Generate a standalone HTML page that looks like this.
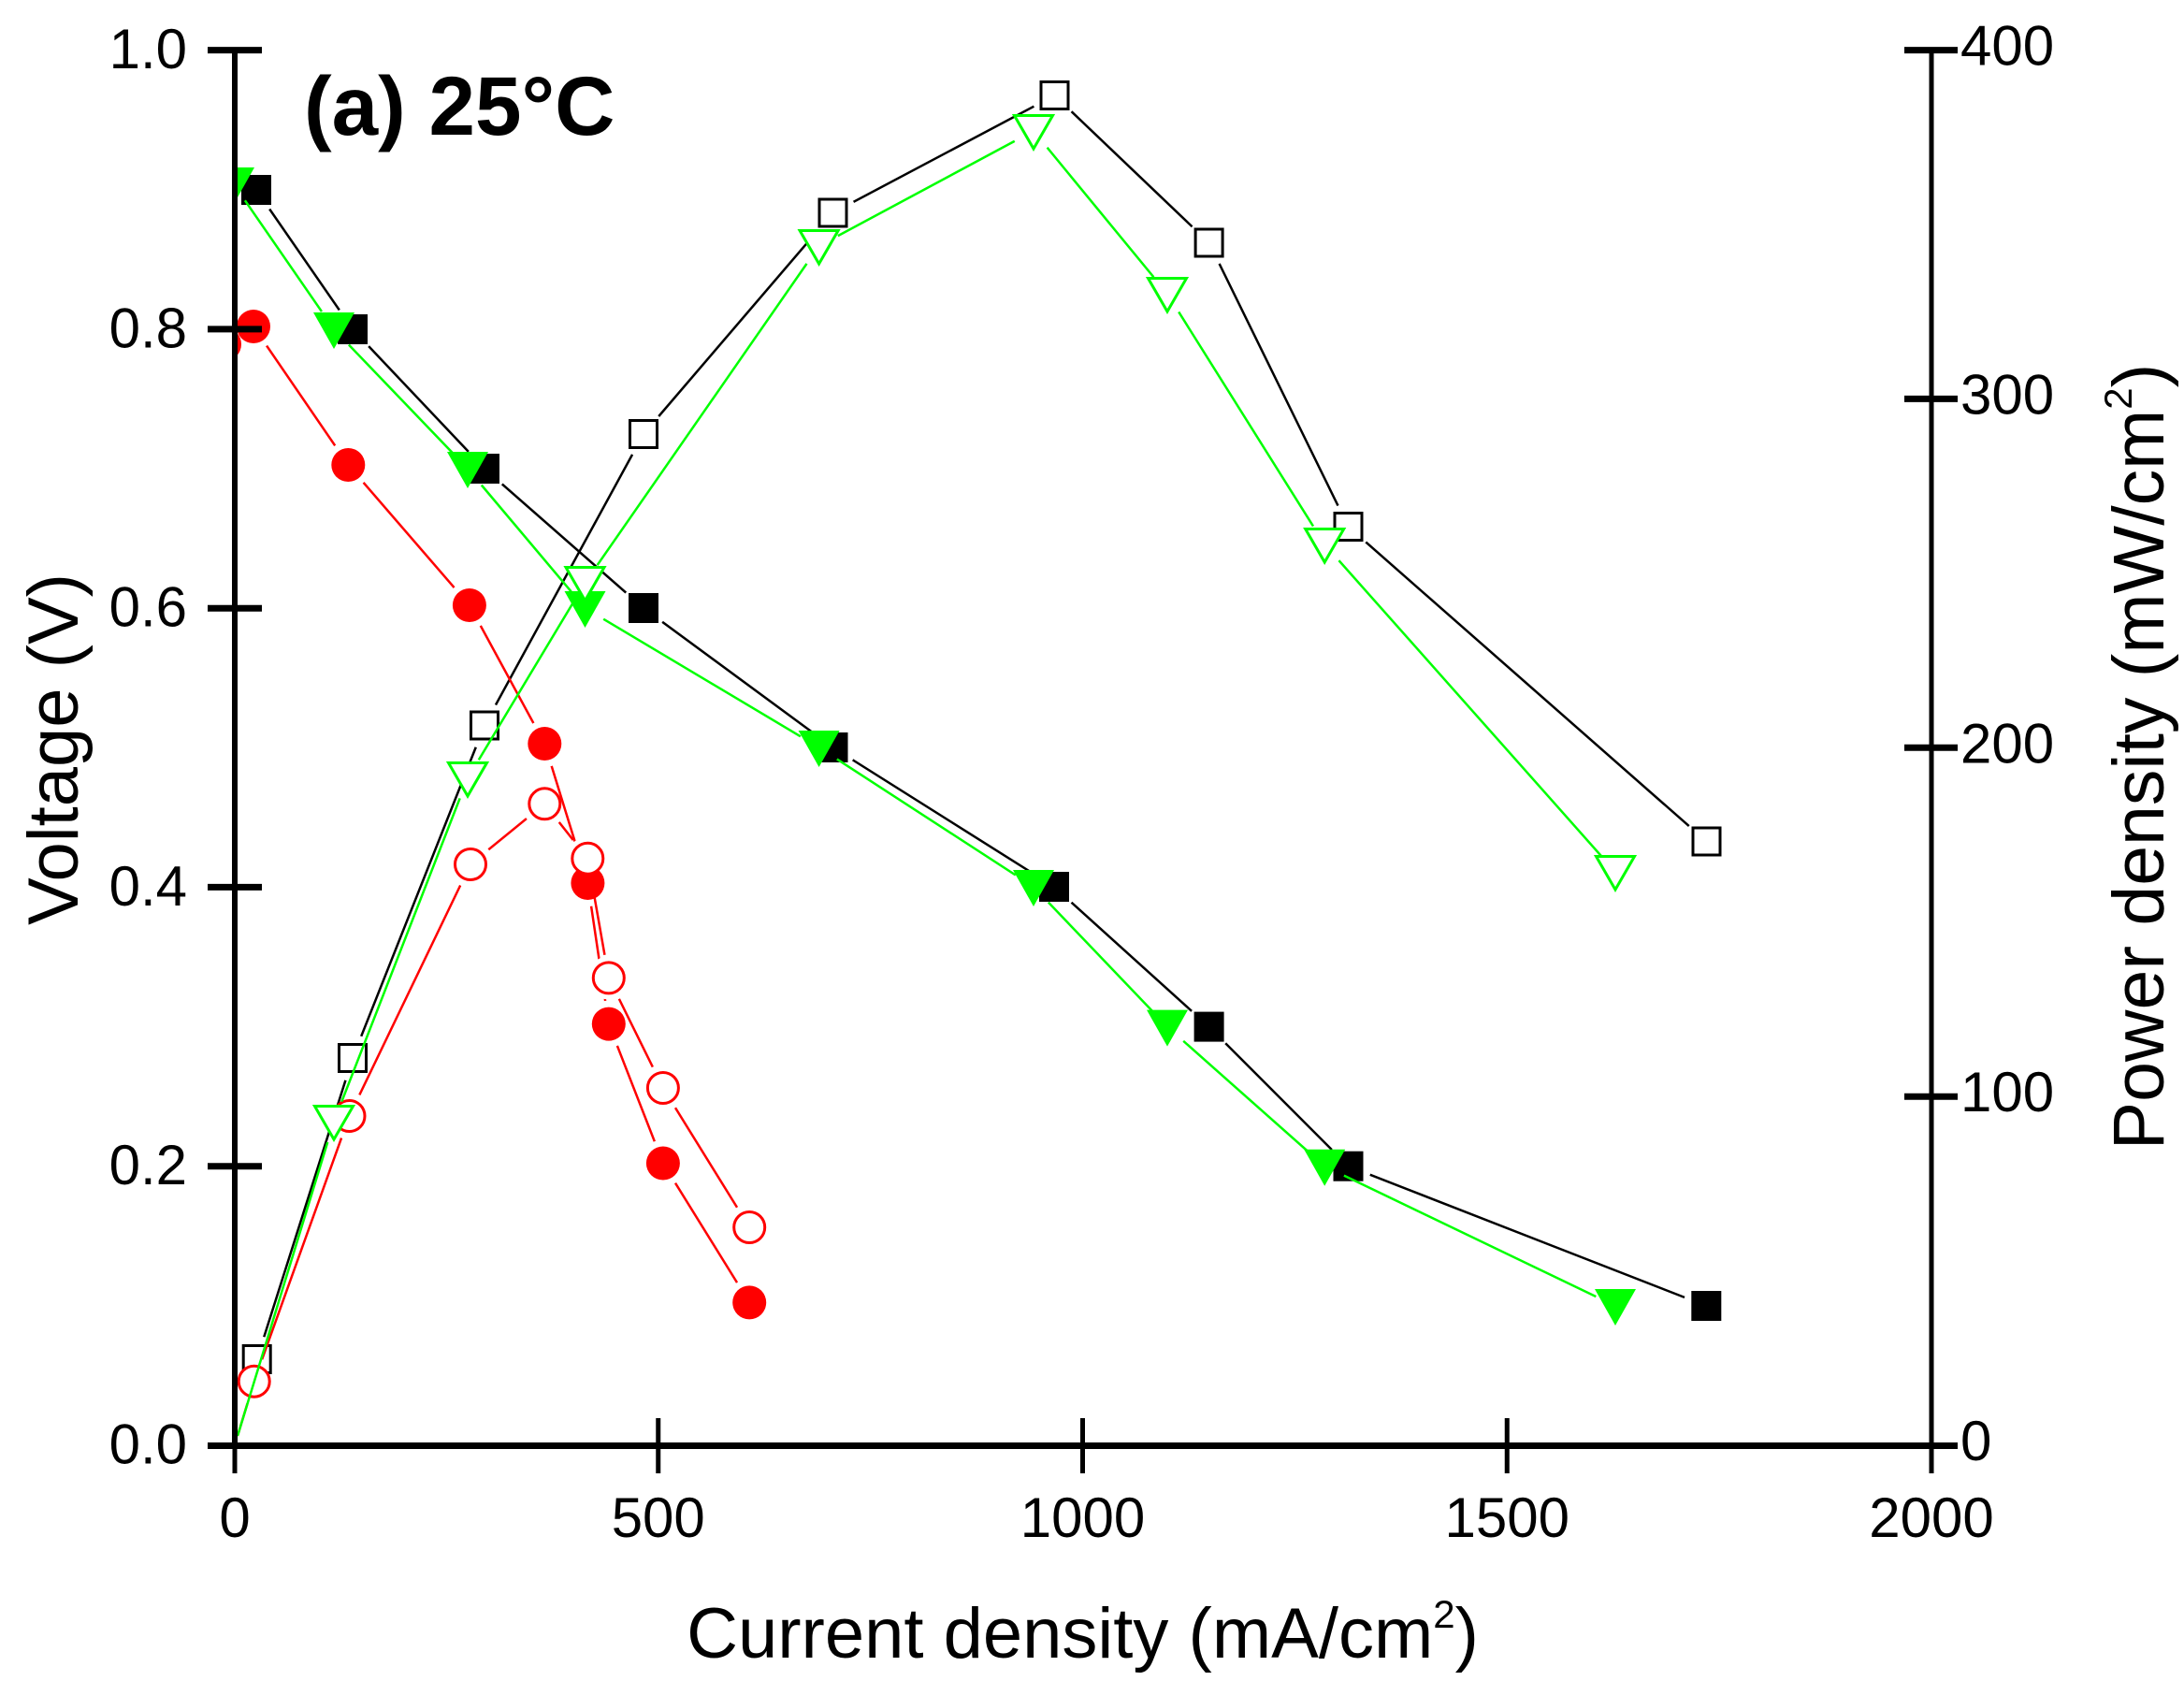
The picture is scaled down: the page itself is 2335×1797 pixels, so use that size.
<!DOCTYPE html>
<html><head><meta charset="utf-8"><style>html,body{margin:0;padding:0;background:#fff;}svg{display:block;}</style></head>
<body>
<svg width="2335" height="1797" viewBox="0 0 2335 1797" xmlns="http://www.w3.org/2000/svg" font-family="'Liberation Sans', Arial, sans-serif">
<rect width="2335" height="1797" fill="#fff"/>
<defs>
<clipPath id="pa"><rect x="250" y="0" width="1815" height="1545"/></clipPath>
<mask id="mBV" maskUnits="userSpaceOnUse" x="0" y="0" width="2335" height="1797"><rect width="2335" height="1797" fill="#fff"/><g fill="#000">
<circle cx="274" cy="203" r="25"/><circle cx="377" cy="352" r="25"/><circle cx="518" cy="501" r="25"/><circle cx="688" cy="650" r="25"/><circle cx="890.5" cy="799" r="25"/><circle cx="1127" cy="948" r="25"/><circle cx="1292.6" cy="1097.6" r="25"/><circle cx="1441.5" cy="1246.7" r="25"/><circle cx="1824.3" cy="1396" r="25"/></g></mask>
<mask id="mBP" maskUnits="userSpaceOnUse" x="0" y="0" width="2335" height="1797"><rect width="2335" height="1797" fill="#fff"/><g fill="#000">
<circle cx="274.7" cy="1453" r="25"/><circle cx="377" cy="1131" r="25"/><circle cx="518" cy="775.5" r="25"/><circle cx="688" cy="464" r="25"/><circle cx="890.5" cy="227.5" r="25"/><circle cx="1127.5" cy="102" r="25"/><circle cx="1292.6" cy="259.5" r="25"/><circle cx="1441.5" cy="563" r="25"/><circle cx="1824.5" cy="899.5" r="25"/></g></mask>
<mask id="mRV" maskUnits="userSpaceOnUse" x="0" y="0" width="2335" height="1797"><rect width="2335" height="1797" fill="#fff"/><g fill="#000">
<circle cx="240" cy="368" r="25"/><circle cx="271" cy="349" r="25"/><circle cx="372.3" cy="497" r="25"/><circle cx="501.9" cy="647" r="25"/><circle cx="582.3" cy="795" r="25"/><circle cx="628.4" cy="944" r="25"/><circle cx="650.8" cy="1094.6" r="25"/><circle cx="708.9" cy="1243.5" r="25"/><circle cx="801.2" cy="1392.4" r="25"/>
<circle cx="628.3" cy="917.7" r="23"/><circle cx="650.8" cy="1045.4" r="23"/><circle cx="708.9" cy="1163" r="23"/></g></mask>
<mask id="mRP" maskUnits="userSpaceOnUse" x="0" y="0" width="2335" height="1797"><rect width="2335" height="1797" fill="#fff"/><g fill="#000">
<circle cx="271.7" cy="1476.7" r="25"/><circle cx="373.5" cy="1193" r="25"/><circle cx="503" cy="924" r="25"/><circle cx="582.3" cy="859.3" r="25"/><circle cx="628.3" cy="917.7" r="25"/><circle cx="650.8" cy="1045.4" r="25"/><circle cx="708.9" cy="1163" r="25"/><circle cx="801.2" cy="1312" r="25"/></g></mask>
<mask id="mGV" maskUnits="userSpaceOnUse" x="0" y="0" width="2335" height="1797"><rect width="2335" height="1797" fill="#fff"/><g fill="#000">
<circle cx="250" cy="197" r="21"/><circle cx="357" cy="352" r="23"/><circle cx="500" cy="501" r="23"/><circle cx="625.5" cy="650" r="23"/><circle cx="875.6" cy="799" r="23"/><circle cx="1105" cy="948" r="23"/><circle cx="1248" cy="1097.6" r="23"/><circle cx="1416.2" cy="1246.7" r="23"/><circle cx="1727" cy="1396" r="23"/></g></mask>
<mask id="mGP" maskUnits="userSpaceOnUse" x="0" y="0" width="2335" height="1797"><rect width="2335" height="1797" fill="#fff"/><g fill="#000">
<circle cx="357" cy="1199" r="23"/><circle cx="500" cy="832" r="23"/><circle cx="625.5" cy="623" r="23"/><circle cx="875.6" cy="263" r="23"/><circle cx="1105" cy="140" r="23"/><circle cx="1248" cy="314" r="23"/><circle cx="1416.2" cy="582" r="23"/><circle cx="1727" cy="932" r="23"/></g></mask>
</defs>

<g clip-path="url(#pa)">
<!-- Black V -->
<polyline mask="url(#mBV)" fill="none" stroke="#000" stroke-width="2.5" points="274,203 377,352 518,501 688,650 890.5,799 1127,948 1292.6,1097.6 1441.5,1246.7 1824.3,1396"/>
<g fill="#000">
<rect x="258" y="187" width="32" height="32"/><rect x="361" y="336" width="32" height="32"/><rect x="502" y="485" width="32" height="32"/><rect x="672" y="634" width="32" height="32"/><rect x="874.5" y="783" width="32" height="32"/><rect x="1111" y="932" width="32" height="32"/><rect x="1276.6" y="1081.6" width="32" height="32"/><rect x="1425.5" y="1230.7" width="32" height="32"/><rect x="1808.3" y="1380" width="32" height="32"/>
</g>
<!-- Black P -->
<polyline mask="url(#mBP)" fill="none" stroke="#000" stroke-width="2.5" points="274.7,1453 377,1131 518,775.5 688,464 890.5,227.5 1127.5,102 1292.6,259.5 1441.5,563 1824.5,899.5"/>
<g fill="#fff" stroke="#000" stroke-width="3">
<rect x="260.2" y="1438.5" width="29" height="29"/><rect x="362.5" y="1116.5" width="29" height="29"/><rect x="503.5" y="761" width="29" height="29"/><rect x="673.5" y="449.5" width="29" height="29"/><rect x="876" y="213" width="29" height="29"/><rect x="1113" y="87.5" width="29" height="29"/><rect x="1278.1" y="245" width="29" height="29"/><rect x="1427" y="548.5" width="29" height="29"/><rect x="1810" y="885" width="29" height="29"/>
</g>
<!-- Red V -->
<polyline mask="url(#mRV)" fill="none" stroke="#f00" stroke-width="2.5" points="240,368 271,349 372.3,497 501.9,647 582.3,795 628.4,944 650.8,1094.6 708.9,1243.5 801.2,1392.4"/>
<g fill="#f00">
<circle cx="240" cy="368" r="18"/><circle cx="271" cy="349" r="18"/><circle cx="372.3" cy="497" r="18"/><circle cx="501.9" cy="647" r="18"/><circle cx="582.3" cy="795" r="18"/><circle cx="628.4" cy="944" r="18"/><circle cx="650.8" cy="1094.6" r="18"/><circle cx="708.9" cy="1243.5" r="18"/><circle cx="801.2" cy="1392.4" r="18"/>
</g>
<!-- Red P -->
<polyline mask="url(#mRP)" fill="none" stroke="#f00" stroke-width="2.5" points="254,1535 271.7,1476.7 373.5,1193 503,924 582.3,859.3 628.3,917.7 650.8,1045.4 708.9,1163 801.2,1312"/>
<g fill="#fff" stroke="#f00" stroke-width="3">
<circle cx="271.7" cy="1476.7" r="16.5"/><circle cx="373.5" cy="1193" r="16.5"/><circle cx="503" cy="924" r="16.5"/><circle cx="582.3" cy="859.3" r="16.5"/><circle cx="628.3" cy="917.7" r="16.5"/><circle cx="650.8" cy="1045.4" r="16.5"/><circle cx="708.9" cy="1163" r="16.5"/><circle cx="801.2" cy="1312" r="16.5"/>
</g>
<!-- Green V -->
<polyline mask="url(#mGV)" fill="none" stroke="#0f0" stroke-width="2.5" points="250,197 357,352 500,501 625.5,650 875.6,799 1105,948 1248,1097.6 1416.2,1246.7 1727,1396"/>
<g fill="#0f0">
<polygon points="228,179 272,179 250,218"/><polygon points="335,334 379,334 357,373"/><polygon points="478,483 522,483 500,522"/><polygon points="603.5,632 647.5,632 625.5,671"/><polygon points="853.6,781 897.6,781 875.6,820"/><polygon points="1083,930 1127,930 1105,969"/><polygon points="1226,1079.6 1270,1079.6 1248,1118.6"/><polygon points="1394.2,1228.7 1438.2,1228.7 1416.2,1267.7"/><polygon points="1705,1378 1749,1378 1727,1417"/>
</g>
<!-- Green P -->
<polyline mask="url(#mGP)" fill="none" stroke="#0f0" stroke-width="2.5" points="254,1535 357,1199 500,832 625.5,623 875.6,263 1105,140 1248,314 1416.2,582 1727,932"/>
<g fill="#fff" stroke="#0f0" stroke-width="3">
<polygon points="336.5,1182.5 377.5,1182.5 357,1218"/><polygon points="479.5,815.5 520.5,815.5 500,851"/><polygon points="605,606.5 646,606.5 625.5,642"/><polygon points="855.1,246.5 896.1,246.5 875.6,282"/><polygon points="1084.5,123.5 1125.5,123.5 1105,159"/><polygon points="1227.5,297.5 1268.5,297.5 1248,333"/><polygon points="1395.7,565.5 1436.7,565.5 1416.2,601"/><polygon points="1706.5,915.5 1747.5,915.5 1727,951"/>
</g>
</g>

<!-- Axes -->
<g stroke="#000" fill="none">
<line x1="251" y1="50.5" x2="251" y2="1548" stroke-width="6"/>
<line x1="2065" y1="50.5" x2="2065" y2="1548" stroke-width="5"/>
<line x1="222" y1="1545.5" x2="2093" y2="1545.5" stroke-width="7"/>
<g stroke-width="7">
<line x1="222" y1="53.6" x2="280" y2="53.6"/><line x1="222" y1="351.9" x2="280" y2="351.9"/><line x1="222" y1="650.2" x2="280" y2="650.2"/><line x1="222" y1="948.4" x2="280" y2="948.4"/><line x1="222" y1="1246.7" x2="280" y2="1246.7"/>
<line x1="2036" y1="53.6" x2="2093" y2="53.6"/><line x1="2036" y1="426.4" x2="2093" y2="426.4"/><line x1="2036" y1="799.3" x2="2093" y2="799.3"/><line x1="2036" y1="1172.2" x2="2093" y2="1172.2"/>
</g>
<g stroke-width="5">
<line x1="251" y1="1516" x2="251" y2="1575"/><line x1="703.75" y1="1516" x2="703.75" y2="1575"/><line x1="1157.5" y1="1516" x2="1157.5" y2="1575"/><line x1="1611.25" y1="1516" x2="1611.25" y2="1575"/><line x1="2065" y1="1516" x2="2065" y2="1575"/>
</g>
</g>

<!-- Tick labels -->
<g font-size="60" fill="#000" text-anchor="end">
<text x="200" y="73">1.0</text><text x="200" y="371.5">0.8</text><text x="200" y="669.5">0.6</text><text x="200" y="968">0.4</text><text x="200" y="1266">0.2</text><text x="200" y="1564.5">0.0</text>
</g>
<g font-size="60" fill="#000" text-anchor="start">
<text x="2096" y="69.5">400</text><text x="2096" y="442.5">300</text><text x="2096" y="815.5">200</text><text x="2096" y="1188">100</text><text x="2096" y="1561">0</text>
</g>
<g font-size="60" fill="#000" text-anchor="middle">
<text x="251" y="1643">0</text><text x="703.75" y="1643">500</text><text x="1157.5" y="1643">1000</text><text x="1611.25" y="1643">1500</text><text x="2065" y="1643">2000</text>
</g>

<!-- Axis titles -->
<text x="1157.5" y="1772" text-anchor="middle" font-size="76" fill="#000">Current density (mA/cm<tspan font-size="42" dy="-32">2</tspan><tspan dy="32">)</tspan></text>
<text transform="translate(83,801) rotate(-90)" text-anchor="middle" font-size="76" fill="#000">Voltage (V)</text>
<text transform="translate(2313,809) rotate(-90)" text-anchor="middle" font-size="77" fill="#000">Power density (mW/cm<tspan font-size="42" dy="-34">2</tspan><tspan dy="34">)</tspan></text>

<!-- Title -->
<text x="325" y="144" font-size="89" font-weight="bold" fill="#000">(a) 25°C</text>
</svg>
</body></html>
